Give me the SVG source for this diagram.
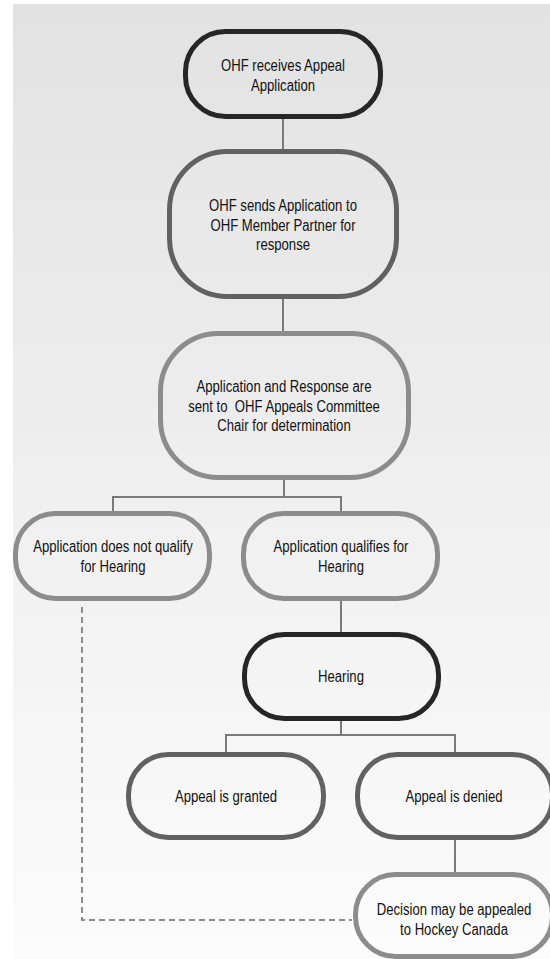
<svg xmlns="http://www.w3.org/2000/svg" width="550" height="959" viewBox="0 0 550 959">
<defs>
<linearGradient id="bg" x1="0" y1="0" x2="0" y2="1">
<stop offset="0" stop-color="#e2e2e2"/>
<stop offset="1" stop-color="#fcfcfc"/>
</linearGradient>
<style>
.node{fill:none;stroke-width:5}
.dark{stroke:#262626}
.mid{stroke:#616161}
.light{stroke:#8c8c8c}
.t{font-family:"Liberation Sans",Arial,sans-serif;font-size:16px;fill:#111;text-anchor:middle}
.c{fill:none;stroke:#7a7a7a;stroke-width:2}
.d{fill:none;stroke:#8c8c8c;stroke-width:2;stroke-dasharray:6 4}
</style>
</defs>
<rect x="0" y="0" width="550" height="959" fill="#ffffff"/>
<rect x="13" y="4" width="537" height="955" fill="url(#bg)"/>
<g id="connectors">
<path class="c" d="M283 119V151"/>
<path class="c" d="M283 299V333"/>
<path class="c" d="M284 480V497M113 511V497H341V511"/>
<path class="c" d="M341 601V632"/>
<path class="c" d="M341 721V735M226 752V735H455V752"/>
<path class="c" d="M455 840V872"/>
<path class="d" d="M82 607V920H352"/>
</g>
<g id="n1">
<rect class="node dark" x="185.5" y="31.5" width="195" height="85" rx="40" ry="40" stroke-width="4.5"/>
<text class="t" transform="translate(283 71) scale(0.82 1)">OHF receives Appeal</text>
<text class="t" transform="translate(283 91) scale(0.82 1)">Application</text>
</g>
<g id="n2">
<rect class="node mid" x="169.5" y="151.5" width="227" height="145" rx="58" ry="58"/>
<text class="t" transform="translate(283 211) scale(0.82 1)">OHF sends Application to</text>
<text class="t" transform="translate(283 230.5) scale(0.82 1)">OHF Member Partner for</text>
<text class="t" transform="translate(283 250) scale(0.82 1)">response</text>
</g>
<g id="n3">
<rect class="node light" x="160.5" y="333.5" width="248" height="144" rx="58" ry="58"/>
<text class="t" transform="translate(284 392) scale(0.82 1)">Application and Response are</text>
<text class="t" transform="translate(284 411.5) scale(0.82 1)" xml:space="preserve">sent to  OHF Appeals Committee</text>
<text class="t" transform="translate(284 431) scale(0.82 1)">Chair for determination</text>
</g>
<g id="n4">
<rect class="node light" x="15.5" y="513.5" width="194" height="85" rx="40" ry="40"/>
<text class="t" transform="translate(113 552) scale(0.82 1)">Application does not qualify</text>
<text class="t" transform="translate(113 571.5) scale(0.82 1)">for Hearing</text>
</g>
<g id="n5">
<rect class="node light" x="243.5" y="513.5" width="194" height="85" rx="40" ry="40"/>
<text class="t" transform="translate(341 552) scale(0.82 1)">Application qualifies for</text>
<text class="t" transform="translate(341 571.5) scale(0.82 1)">Hearing</text>
</g>
<g id="n6">
<rect class="node dark" x="244.5" y="634.5" width="194" height="84" rx="40" ry="40"/>
<text class="t" transform="translate(341 681.5) scale(0.82 1)">Hearing</text>
</g>
<g id="n7">
<rect class="node mid" x="128.5" y="754.5" width="195" height="83" rx="40" ry="40"/>
<text class="t" transform="translate(226 801.5) scale(0.82 1)">Appeal is granted</text>
</g>
<g id="n8">
<rect class="node mid" x="357.5" y="754.5" width="195" height="83" rx="40" ry="40"/>
<text class="t" transform="translate(454 801.5) scale(0.82 1)">Appeal is denied</text>
</g>
<g id="n9">
<rect class="node light" x="355.5" y="874.5" width="197" height="82" rx="40" ry="40"/>
<text class="t" transform="translate(454 915) scale(0.82 1)">Decision may be appealed</text>
<text class="t" transform="translate(454 934.5) scale(0.82 1)">to Hockey Canada</text>
</g>
</svg>
